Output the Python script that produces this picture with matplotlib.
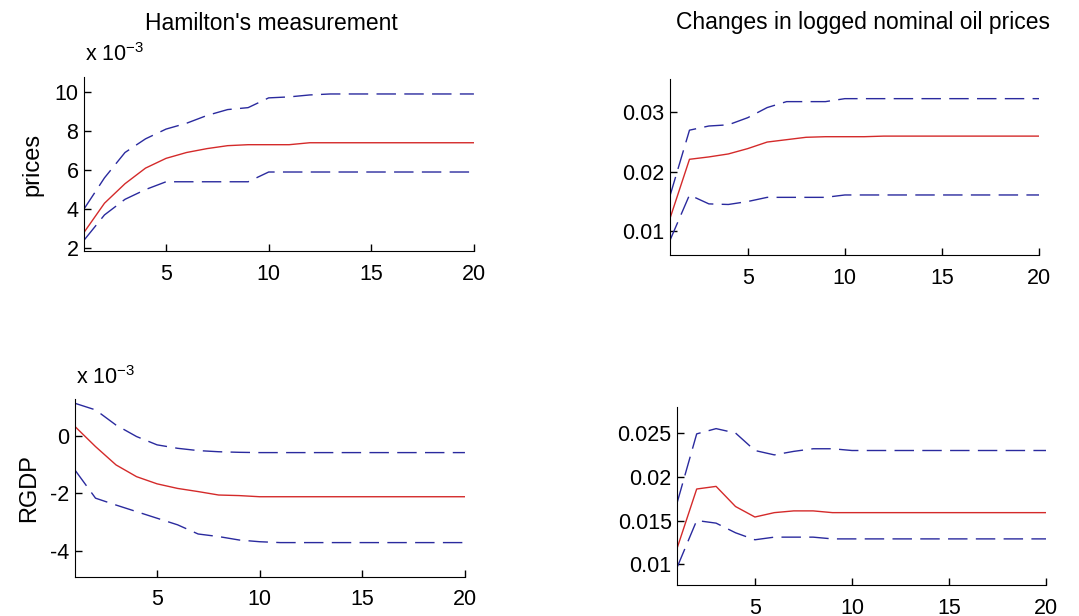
import numpy as np
import matplotlib
matplotlib.use('Agg')
import matplotlib.pyplot as plt

plt.rcParams['font.family'] = ['Liberation Sans Narrow', 'Liberation Sans', 'DejaVu Sans']

steps = np.arange(1, 21)

# Hamilton's measurement -> prices (x 1e-3)
ham_prices_mid = [2.8, 4.3, 5.3, 6.1, 6.6, 6.9, 7.1, 7.25, 7.3, 7.3,
                  7.3, 7.4, 7.4, 7.4, 7.4, 7.4, 7.4, 7.4, 7.4, 7.4]
ham_prices_up = [4.0, 5.6, 6.9, 7.6, 8.1, 8.4, 8.8, 9.1, 9.2, 9.7,
                 9.75, 9.85, 9.9, 9.9, 9.9, 9.9, 9.9, 9.9, 9.9, 9.9]
ham_prices_lo = [2.4, 3.7, 4.5, 5.0, 5.4, 5.4, 5.4, 5.4, 5.4, 5.9,
                 5.9, 5.9, 5.9, 5.9, 5.9, 5.9, 5.9, 5.9, 5.9, 5.9]

# oil price changes -> prices
oil_prices_mid = [0.0122, 0.0221, 0.0225, 0.0230, 0.0239, 0.0250, 0.0254, 0.0258, 0.0259, 0.0259,
                  0.0259, 0.0260, 0.0260, 0.0260, 0.0260, 0.0260, 0.0260, 0.0260, 0.0260, 0.0260]
oil_prices_up = [0.0160, 0.0270, 0.0277, 0.0279, 0.0291, 0.0308, 0.0318, 0.0318, 0.0318, 0.0323,
                 0.0323, 0.0323, 0.0323, 0.0323, 0.0323, 0.0323, 0.0323, 0.0323, 0.0323, 0.0323]
oil_prices_lo = [0.0085, 0.0161, 0.0146, 0.0145, 0.0150, 0.0157, 0.0157, 0.0157, 0.0157, 0.0161,
                 0.0161, 0.0161, 0.0161, 0.0161, 0.0161, 0.0161, 0.0161, 0.0161, 0.0161, 0.0161]

# Hamilton's measurement -> RGDP (x 1e-3)
ham_rgdp_mid = [0.33, -0.37, -1.01, -1.42, -1.67, -1.83, -1.94, -2.06, -2.08, -2.12,
                -2.12, -2.12, -2.12, -2.12, -2.12, -2.12, -2.12, -2.12, -2.12, -2.12]
ham_rgdp_up = [1.14, 0.91, 0.38, -0.02, -0.31, -0.43, -0.51, -0.55, -0.57, -0.58,
               -0.58, -0.58, -0.58, -0.58, -0.58, -0.58, -0.58, -0.58, -0.58, -0.58]
ham_rgdp_lo = [-1.19, -2.17, -2.41, -2.64, -2.87, -3.10, -3.42, -3.51, -3.63, -3.69,
               -3.72, -3.72, -3.72, -3.72, -3.72, -3.72, -3.72, -3.72, -3.72, -3.72]

# oil price changes -> RGDP
oil_rgdp_mid = [0.0119, 0.0186, 0.0189, 0.0166, 0.0154, 0.0159, 0.0161, 0.0161, 0.0159, 0.0159,
                0.0159, 0.0159, 0.0159, 0.0159, 0.0159, 0.0159, 0.0159, 0.0159, 0.0159, 0.0159]
oil_rgdp_up = [0.0171, 0.0249, 0.0255, 0.0250, 0.0230, 0.0225, 0.0229, 0.0232, 0.0232, 0.0230,
               0.0230, 0.0230, 0.0230, 0.0230, 0.0230, 0.0230, 0.0230, 0.0230, 0.0230, 0.0230]
oil_rgdp_lo = [0.0097, 0.0150, 0.0147, 0.0136, 0.0128, 0.0131, 0.0131, 0.0131, 0.0129, 0.0129,
               0.0129, 0.0129, 0.0129, 0.0129, 0.0129, 0.0129, 0.0129, 0.0129, 0.0129, 0.0129]

RED = '#d42a2a'
BLUE = '#2a2a9e'
FS = 15.5

fig = plt.figure(figsize=(10.79, 6.16), dpi=100)


def panel(rect, mid, up, lo, ylim, yticks, yticklabels):
    ax = fig.add_axes(rect)
    ax.plot(steps, up, color=BLUE, lw=1.0, dashes=(14, 6))
    ax.plot(steps, lo, color=BLUE, lw=1.0, dashes=(14, 6))
    ax.plot(steps, mid, color=RED, lw=1.0)
    ax.set_xlim(1, 20)
    ax.set_ylim(*ylim)
    ax.set_xticks([5, 10, 15, 20])
    ax.set_yticks(yticks)
    ax.set_yticklabels(yticklabels)
    ax.spines['top'].set_visible(False)
    ax.spines['right'].set_visible(False)
    ax.tick_params(direction='in', length=5, labelsize=FS, width=1)
    ax.tick_params(axis='x', pad=9)
    ax.tick_params(axis='y', pad=4)
    return ax


ax1 = panel([0.0778, 0.5925, 0.3614, 0.2825], ham_prices_mid, ham_prices_up, ham_prices_lo,
            (1.85, 10.77), [2, 4, 6, 8, 10], ['2', '4', '6', '8', '10'])
ax1.set_ylabel('prices', fontsize=17, labelpad=8)
fig.text(271 / 1079, 1 - 24 / 616, "Hamilton's measurement", fontsize=16.5,
         ha='center', va='center')
ax1.text(0.003, 1.13, r'x 10$^{\mathregular{-3}}$', transform=ax1.transAxes, fontsize=15.5,
         ha='left', va='center')

ax2 = panel([0.621, 0.586, 0.342, 0.2857], oil_prices_mid, oil_prices_up, oil_prices_lo,
            (0.006, 0.0356), [0.01, 0.02, 0.03], ['0.01', '0.02', '0.03'])
fig.text(863 / 1079, 1 - 23 / 616, 'Changes in logged nominal oil prices', fontsize=16.5,
         ha='center', va='center')

ax3 = panel([0.0695, 0.0638, 0.3614, 0.288], ham_rgdp_mid, ham_rgdp_up, ham_rgdp_lo,
            (-4.91, 1.28), [-4, -2, 0], ['-4', '-2', '0'])
ax3.set_ylabel('RGDP', fontsize=17, labelpad=7)
ax3.text(0.003, 1.12, r'x 10$^{\mathregular{-3}}$', transform=ax3.transAxes, fontsize=15.5,
         ha='left', va='center')

ax4 = panel([0.6277, 0.0503, 0.3417, 0.2894], oil_rgdp_mid, oil_rgdp_up, oil_rgdp_lo,
            (0.00763, 0.028), [0.01, 0.015, 0.02, 0.025], ['0.01', '0.015', '0.02', '0.025'])

fig.savefig('out.png', dpi=100)
